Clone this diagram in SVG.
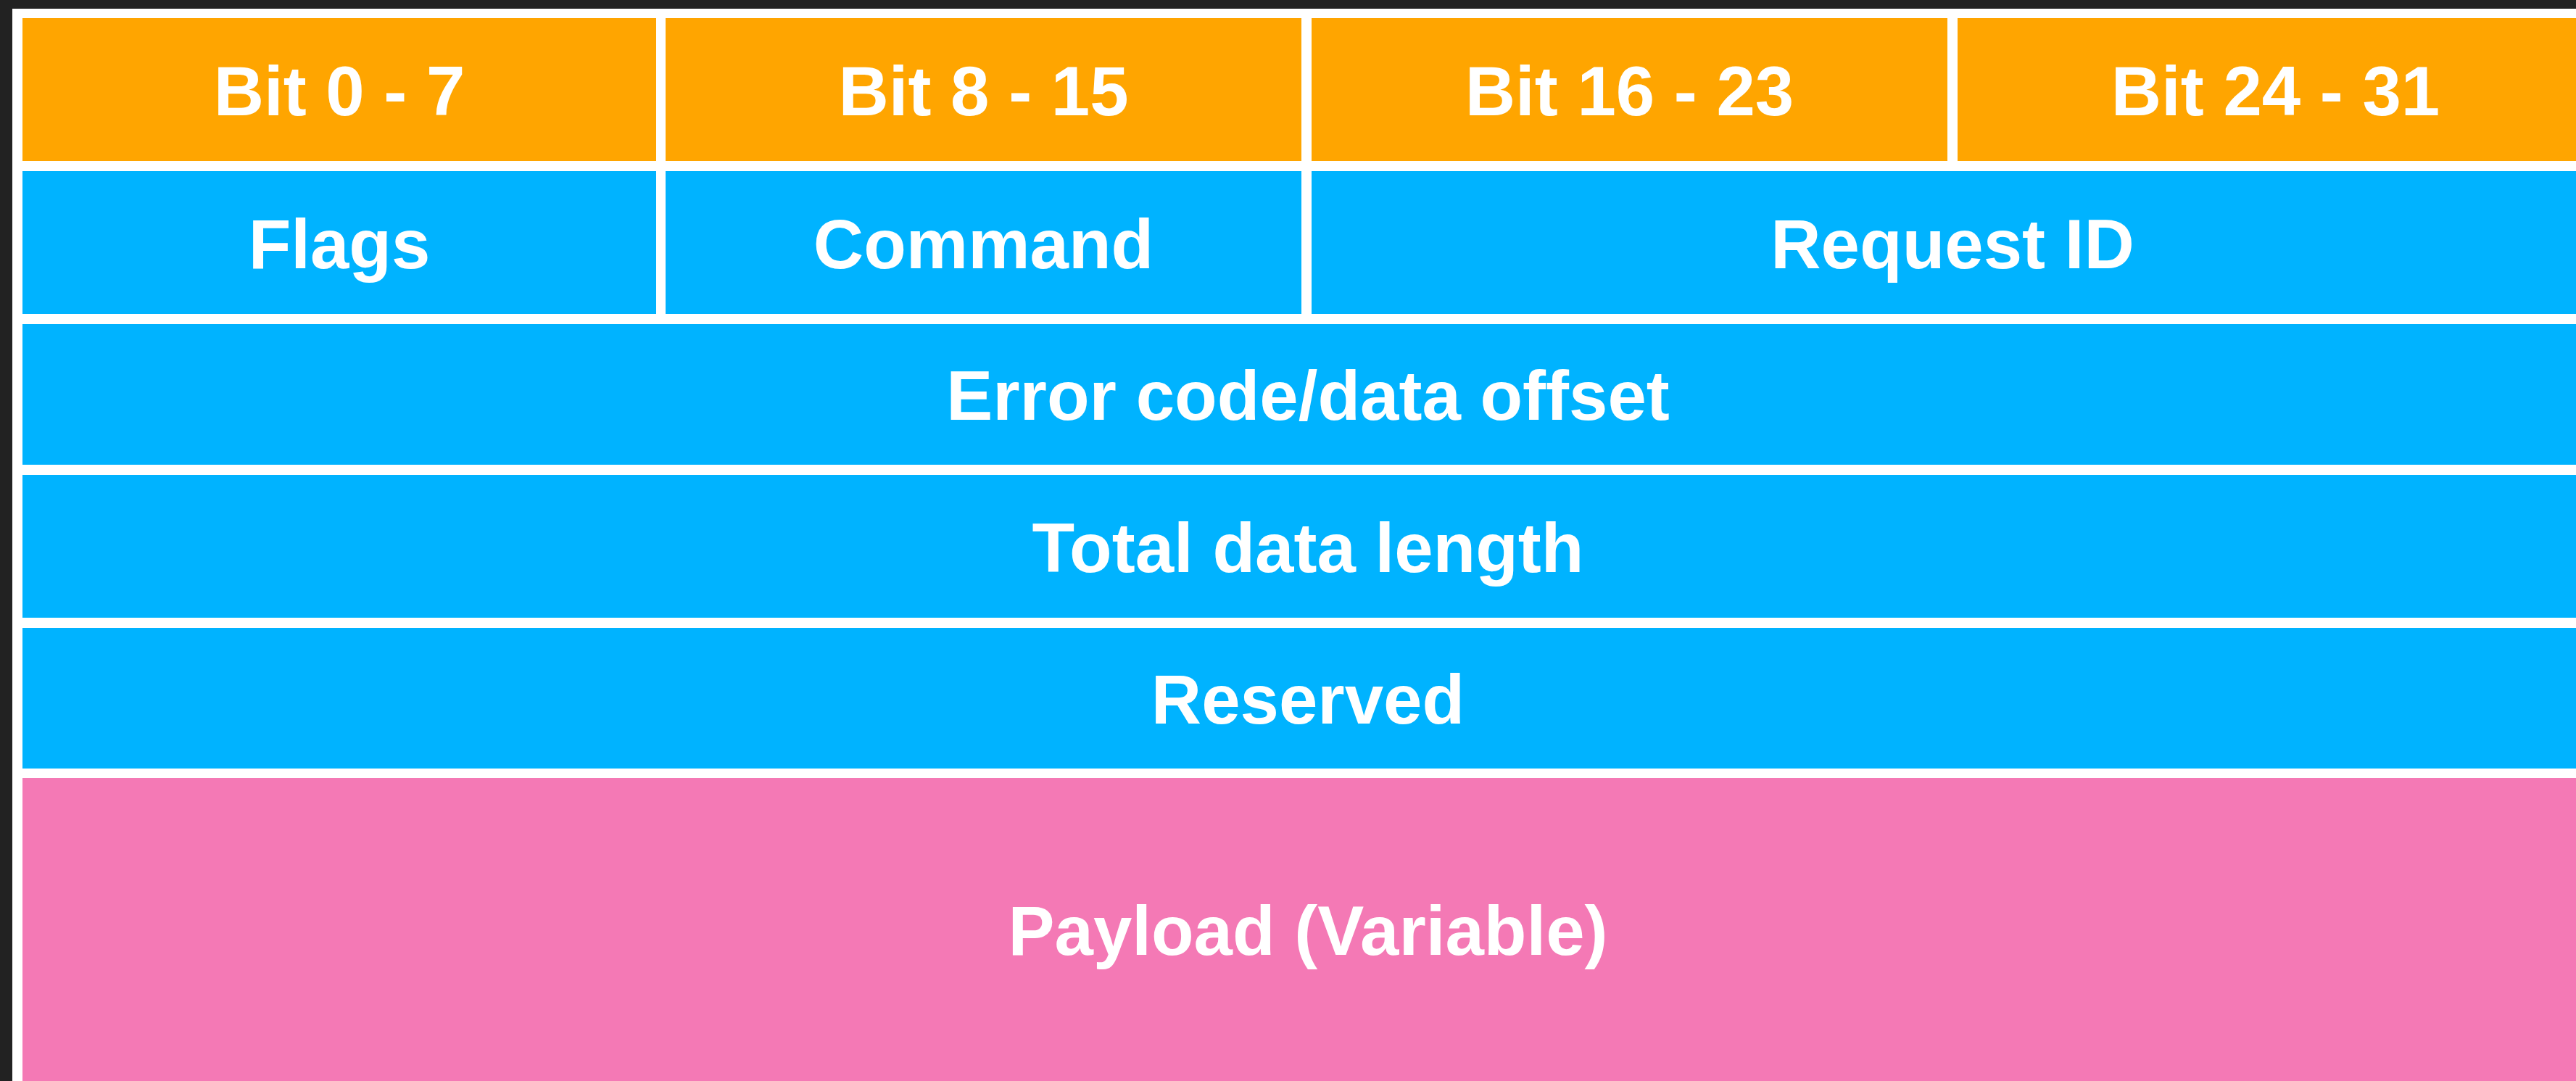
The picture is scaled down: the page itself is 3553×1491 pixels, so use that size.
<svg xmlns="http://www.w3.org/2000/svg" width="3553" height="1491" viewBox="0 0 3553 1491">
  <style>
    .hdr { fill: #FFA500; }
    .fld { fill: #00B3FF; }
    .pay { fill: #F479B5; }
    .lbl { fill: #FFFFFF; font-family: "Liberation Sans", Arial, Helvetica, sans-serif; font-weight: bold; font-size: 96px; text-anchor: middle; }
  </style>
  <!-- frame -->
  <rect x="0" y="0" width="3553" height="1491" fill="#222222"/>
  <rect x="17" y="12" width="3560" height="1500" fill="#FFFFFF"/>

  <!-- header row: bit ranges -->
  <g id="bit-0-7">
    <rect class="hdr" x="31" y="25" width="874" height="197"/>
    <text class="lbl" x="468" y="158.5">Bit 0 - 7</text>
  </g>
  <g id="bit-8-15">
    <rect class="hdr" x="918" y="25" width="877" height="197"/>
    <text class="lbl" x="1356.5" y="158.5">Bit 8 - 15</text>
  </g>
  <g id="bit-16-23">
    <rect class="hdr" x="1809" y="25" width="877" height="197"/>
    <text class="lbl" x="2247.5" y="158.5">Bit 16 - 23</text>
  </g>
  <g id="bit-24-31">
    <rect class="hdr" x="2700" y="25" width="877" height="197"/>
    <text class="lbl" x="3138.5" y="158.5">Bit 24 - 31</text>
  </g>

  <!-- first word -->
  <g id="flags">
    <rect class="fld" x="31" y="236" width="874" height="197"/>
    <text class="lbl" x="468" y="369.5">Flags</text>
  </g>
  <g id="command">
    <rect class="fld" x="918" y="236" width="877" height="197"/>
    <text class="lbl" x="1356.5" y="369.5">Command</text>
  </g>
  <g id="request-id">
    <rect class="fld" x="1809" y="236" width="1768" height="197"/>
    <text class="lbl" x="2693" y="369.5">Request ID</text>
  </g>

  <!-- full-width words -->
  <g id="error-code">
    <rect class="fld" x="31" y="447" width="3546" height="194"/>
    <text class="lbl" x="1804" y="579">Error code/data offset</text>
  </g>
  <g id="total-length">
    <rect class="fld" x="31" y="655" width="3546" height="197"/>
    <text class="lbl" x="1804" y="788.5">Total data length</text>
  </g>
  <g id="reserved">
    <rect class="fld" x="31" y="866" width="3546" height="194"/>
    <text class="lbl" x="1804" y="998">Reserved</text>
  </g>

  <!-- payload -->
  <g id="payload">
    <rect class="pay" x="31" y="1073" width="3546" height="440"/>
    <text class="lbl" x="1804" y="1317">Payload (Variable)</text>
  </g>

  <g id="connectors"/>
</svg>
